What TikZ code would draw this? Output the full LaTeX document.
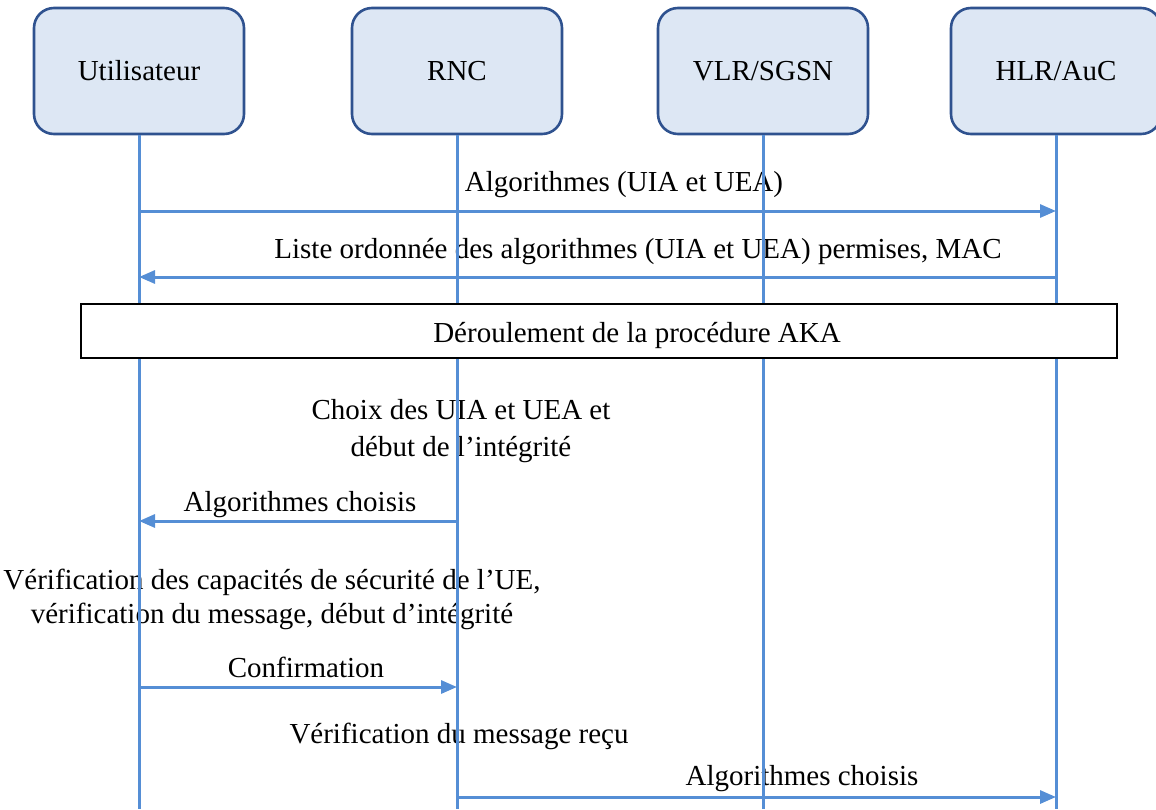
\documentclass[tikz,border=0pt]{standalone}
\usepackage{fontspec}
\setmainfont{Liberation Serif}
\usetikzlibrary{arrows.meta}
\definecolor{lifeblue}{RGB}{85,142,213}
\definecolor{boxblue}{RGB}{47,82,143}
\definecolor{boxfill}{RGB}{221,231,244}
\tikzset{
  entity/.style={draw=boxblue, line width=1.3pt, fill=boxfill, rounded corners=10pt,
                 minimum width=105pt, minimum height=63pt},
  lifeline/.style={lifeblue, line width=1.5pt},
  msg/.style={lifeblue, line width=1.5pt, -{Triangle[length=8pt,width=6.5pt]}},
  msgtext/.style={inner sep=1pt, align=center}
}
\begin{document}
\begin{tikzpicture}[x=0.5pt, y=-0.5pt, font=\fontsize{14.5}{17}\selectfont]
    % Frame
    \useasboundingbox (0,0) rectangle (1156,809);

    % Entities
    \node[entity] (ue)  at (139,71)  {Utilisateur};
    \node[entity] (rnc) at (457,71)  {RNC};
    \node[entity] (vlr) at (763,71)  {VLR/SGSN};
    \node[entity] (hlr) at (1056,71) {HLR/AuC};
    \coordinate (bottom) at (0,809);

    % Texts
    \node[msgtext] (t1) at (624,185) {Algorithmes (UIA et UEA)};
    \node[msgtext] (t2) at (638,252) {Liste ordonnée des algorithmes (UIA et UEA) permises, MAC};
    \node[msgtext, font=\fontsize{14.5}{18.5}\selectfont] (t3) at (461,431) {Choix des UIA et UEA et\\début de l’intégrité};
    \node[msgtext] (t4) at (300,505) {Algorithmes choisis};
    \node[msgtext] (t5) at (272,599) {Vérification des capacités de sécurité de l’UE,\\vérification du message, début d’intégrité};
    \node[msgtext] (t6) at (306,667) {Confirmation};
    \node[msgtext] (t7) at (459,736) {Vérification du message reçu};
    \node[msgtext] (t8) at (802,779) {Algorithmes choisis};

    % Lifelines
    \foreach \n in {ue,rnc,vlr,hlr}
        \draw[lifeline] (\n.south) -- (\n.south |- bottom);

    % AKA procedure
    \node[draw, line width=1pt, fill=white, minimum width=518pt, minimum height=27pt] (aka) at (599,331) {};
    \node[msgtext] (akatext) at (637,335) {Déroulement de la procédure AKA};

    % Messages
    \coordinate (y1) at (0,211);
    \coordinate (y2) at (0,277);
    \coordinate (y3) at (0,521);
    \coordinate (y4) at (0,687);
    \coordinate (y5) at (0,797);
    \draw[msg] (ue.south |- y1) -- (hlr.south |- y1);
    \draw[msg] (hlr.south |- y2) -- (ue.south |- y2);
    \draw[msg] (rnc.south |- y3) -- (ue.south |- y3);
    \draw[msg] (ue.south |- y4) -- (rnc.south |- y4);
    \draw[msg] (rnc.south |- y5) -- (hlr.south |- y5);
\end{tikzpicture}
\end{document}
